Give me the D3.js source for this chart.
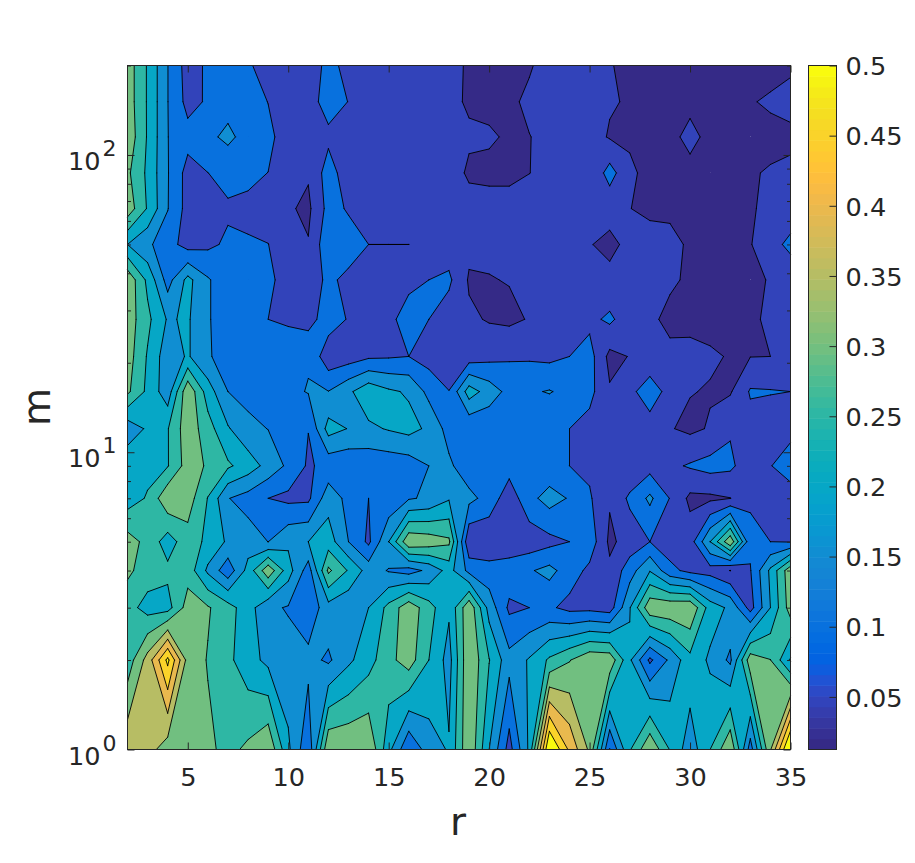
<!DOCTYPE html>
<html><head><meta charset="utf-8">
<script src="https://cdn.jsdelivr.net/npm/d3@7"></script>
<style>html,body{margin:0;padding:0;background:#fff}svg{display:block}text{font-family:"DejaVu Sans";fill:#262626}</style>
</head><body><div id="c"></div>
<script>
// x values (r = 2..35), y values (m), top row first
const rValues = d3.range(2, 36);
const mValues = [200,151,115,87,66,50,38,28,21,16,12,9,7,5,4,3,2,1];
const m200=[.3275,.245,.151,.078,.108,.12,.106,.08,.08,.08,.11,.09,.075,.07,.07,.07,.06,.046,.04,.04,.048,.058,.065,.06,.052,.042,.04,.04,.04,.04,.04,.04,.034,.045];
const m151=[.3275,.245,.151,.084,.106,.134,.125,.099,.07,.08,.12,.099,.075,.07,.07,.07,.062,.044,.04,.046,.054,.06,.065,.062,.054,.046,.04,.04,.0455,.04,.04,.047,.056,.06];
const m115=[.335,.245,.151,.118,.14,.16,.133,.115,.07,.072,.089,.08,.07,.07,.07,.065,.06,.057,.055,.045,.0495,.055,.065,.07,.046,.042,.04,.045,.055,.045,.042,.04,.037,.043];
const m87=[.31,.24,.153,.081,.0995,.117,.11,.0995,.075,.055,.123,.071,.07,.07,.07,.07,.075,.042,.04,.04,.0495,.06,.065,.055,.12,.06,.034,.035,.0445,.04,.04,.046,.054,.057];
const m66=[.33,.245,.152,.081,.08,.093,.09,.085,.056,.04,.116,.0955,.09,.08,.075,.075,.072,.0706,.067,.067,.07,.07,.07,.06,.065,.0505,.044,.043,.043,.04,.04,.047,.057,.065];
const m50=[.2,.16,.12,.08,.09,.108,.104,.1005,.08,.053,.137,.12,.1,.1,.1,.08,.075,.062,.06,.062,.065,.07,.06,.052,.04,.0604,.062,.06,.045,.04,.04,.0476,.078,.115];
const m38=[.339,.238,.13,.215,.155,.12,.115,.108,.085,.08,.108,.09,.08,.08,.09,.1,.109,.045,.048,.052,.06,.068,.07,.065,.061,.06,.058,.056,.044,.04,.04,.04,.053,.06];
const m28=[.328,.262,.195,.206,.155,.12,.115,.1,.095,.08,.127,.096,.08,.09,.117,.1,.075,.058,.046,.04,.053,.06,.07,.087,.11,.07,.058,.04,.035,.035,.038,.045,.055,.06];
const m21=[.324,.245,.17,.206,.155,.13,.125,.123,.121,.145,.066,.075,.092,.095,.1,.08,.07,.072,.085,.094,.093,.088,.1,.12,.036,.052,.067,.06,.066,.056,.047,.049,.05,.058];
const m16=[.31,.238,.17,.34,.225,.15,.135,.125,.137,.153,.151,.19,.235,.208,.194,.135,.101,.225,.177,.134,.144,.153,.136,.115,.055,.088,.125,.083,.052,.0468,.045,.105,.103,.1];
const m12=[.167,.208,.247,.331,.272,.205,.163,.149,.125,.101,.22,.198,.19,.204,.216,.191,.13,.105,.11,.11,.11,.105,.1,.082,.06,.055,.079,.053,.04,.054,.095,.08,.07,.085];
const m9=[.24,.235,.247,.323,.294,.258,.226,.183,.14,.093,.116,.11,.115,.117,.123,.15,.16,.117,.11,.12,.11,.115,.1,.09,.06,.055,.08,.09,.105,.118,.11,.07,.098,.125];
const m7=[.225,.255,.34,.325,.248,.152,.13,.1,.088,.09,.18,.135,.1,.11,.145,.158,.195,.165,.13,.07,.135,.17,.146,.106,.055,.11,.16,.098,.039,.04,.049,.095,.085,.075];
const m5=[.322,.285,.225,.28,.237,.192,.175,.1495,.19,.2,.225,.15,.09,.2,.34,.33,.31,.055,.06,.06,.07,.085,.1,.13,.04,.07,.1,.07,.075,.2,.34,.11,.1,.097];
const m4=[.31,.277,.262,.28,.19,.118,.218,.335,.222,.125,.31,.245,.178,.146,.13,.161,.22,.135,.12,.131,.145,.165,.125,.088,.06,.127,.197,.115,.085,.08,.049,.097,.21,.335];
const m3=[.27,.23,.23,.322,.305,.27,.222,.16,.146,.115,.18,.16,.2,.265,.333,.27,.208,.34,.18,.09,.1,.108,.085,.085,.075,.197,.336,.34,.345,.225,.19,.08,.2,.325];
const m2=[.27,.37,.512,.33,.297,.262,.22,.187,.17,.165,.142,.19,.23,.285,.325,.25,.18,.345,.252,.167,.205,.258,.297,.34,.335,.208,.09,.16,.235,.191,.14,.33,.301,.195];
const m1=[.39,.37,.324,.32,.31,.286,.31,.345,.21,.11,.345,.345,.348,.215,.105,.174,.205,.345,.2,.08,.21,.562,.44,.34,.098,.245,.345,.247,.17,.25,.345,.125,.345,.58];
const rows=[m200,m151,m115,m87,m66,m50,m38,m28,m21,m16,m12,m9,m7,m5,m4,m3,m2,m1];
const levels=[0,.05,.1,.15,.2,.25,.3,.35,.4,.45,.5];
const xTicks=[5,10,15,20,25,30,35];
const yMajor=[1,10,100];
const yMinor=[2,3,4,5,6,7,8,9,20,30,40,50,60,70,80,90,200];
const cbTicks=[.05,.1,.15,.2,.25,.3,.35,.4,.45,.5];
const parula=[[.2081,.1663,.5292],[.2116,.1898,.5777],[.2123,.2138,.627],[.2081,.2386,.6771],[.1959,.2645,.7279],[.1707,.2919,.7792],[.1253,.3242,.8303],[.0591,.3598,.8683],[.0117,.3875,.882],[.006,.4086,.8828],[.0165,.4266,.8786],[.0329,.443,.872],[.0498,.4586,.8641],[.0629,.4737,.8554],[.0723,.4887,.8467],[.0779,.504,.8384],[.0793,.52,.8312],[.0749,.5375,.8263],[.0641,.557,.824],[.0488,.5772,.8228],[.0343,.5966,.8199],[.0265,.6137,.8135],[.0239,.6287,.8038],[.0231,.6418,.7913],[.0228,.6535,.7768],[.0267,.6642,.7607],[.0384,.6743,.7436],[.059,.6838,.7254],[.0843,.6928,.7062],[.1133,.7015,.6859],[.1453,.7098,.6646],[.1801,.7177,.6424],[.2178,.725,.6193],[.2586,.7317,.5954],[.3022,.7376,.5712],[.3482,.7424,.5473],[.3953,.7459,.5244],[.442,.7481,.5033],[.4871,.7491,.484],[.53,.7491,.4661],[.5709,.7485,.4494],[.6099,.7473,.4337],[.6473,.7456,.4188],[.6834,.7435,.4044],[.7184,.7411,.3905],[.7525,.7384,.3768],[.7858,.7356,.3633],[.8185,.7327,.3498],[.8507,.7299,.336],[.8824,.7274,.3217],[.9139,.7258,.3063],[.945,.7261,.2886],[.9739,.7314,.2666],[.9938,.7455,.2403],[.999,.7653,.2164],[.9955,.7861,.1967],[.988,.8066,.1794],[.9789,.8271,.1633],[.9697,.8481,.1475],[.9626,.8705,.1309],[.9589,.8949,.1132],[.9598,.9218,.0948],[.9661,.9514,.0755],[.9763,.9831,.0538]];
const cmin=.0125,cmax=.5;
const pc=i=>{const c=parula[Math.max(0,Math.min(63,i))];return d3.rgb(c[0]*255,c[1]*255,c[2]*255)+""};
const colorOf=v=>pc(Math.floor((v-cmin)/(cmax-cmin)*64));

const L=127.5,R=790.5,T=65.5,B=749.5,CL=808.5,CR=836.5,INK="#262626",FS=25.6;
const svg=d3.select("#c").append("svg").attr("width",915).attr("height",863);
const x=d3.scaleLinear().domain([2,35]).range([L,R]);
const y=d3.scaleLog().domain([1,200]).range([B,T]);

// marching squares on the (r, m) lattice: one fill path and one line path per level
function bands(level){
  const fill=d3.path(),line=d3.path();
  const poly=(pts)=>{fill.moveTo(pts[0][0],pts[0][1]);pts.slice(1).forEach(p=>fill.lineTo(p[0],p[1]));fill.closePath();};
  const seg=(a,b)=>{line.moveTo(a[0],a[1]);line.lineTo(b[0],b[1]);};
  for(let j=0;j<mValues.length-1;j++)for(let i=0;i<rValues.length-1;i++){
    const P=[[x(rValues[i]),y(mValues[j])],[x(rValues[i+1]),y(mValues[j])],[x(rValues[i+1]),y(mValues[j+1])],[x(rValues[i]),y(mValues[j+1])]];
    const V=[rows[j][i],rows[j][i+1],rows[j+1][i+1],rows[j+1][i]];
    const hi=V.map(v=>v>=level);
    const cross=[0,1,2,3].map(e=>{const n=(e+1)%4;if(hi[e]===hi[n])return null;
      const t=(level-V[e])/(V[n]-V[e]);return [P[e][0]+t*(P[n][0]-P[e][0]),P[e][1]+t*(P[n][1]-P[e][1])];});
    const count=cross.filter(Boolean).length;
    if(count===4){
      const joined=d3.mean(V)>=level; // cell mean settles a saddle
      const h=hi[0]?0:1; // first high corner (h, h+2 are high)
      const c=k=>cross[(k+4)%4], p=k=>P[(k+4)%4];
      if(joined){
        poly([p(h),c(h),c(h+1),p(h+2),c(h+2),c(h+3)]);
        seg(c(h),c(h+1));seg(c(h+2),c(h+3));
      }else{
        poly([p(h),c(h),c(h+3)]);poly([p(h+2),c(h+2),c(h+1)]);
        seg(c(h),c(h+3));seg(c(h+1),c(h+2));
      }
    }else{
      const pts=[];
      for(let e=0;e<4;e++){if(hi[e])pts.push(P[e]);if(cross[e])pts.push(cross[e]);}
      if(pts.length>=3)poly(pts);
      const cs=cross.filter(Boolean);
      if(cs.length===2)seg(cs[0],cs[1]);
    }
  }
  return {level,fill:fill.toString(),line:line.toString()};
}
const layers=levels.map(bands);
const pg=svg.append("g");
pg.selectAll("path").data(layers).join("path").attr("d",d=>d.fill).attr("fill",d=>colorOf(d.level));
svg.append("g").selectAll("path").data(layers).join("path").attr("d",d=>d.line)
  .attr("fill","none").attr("stroke","#000").attr("stroke-width",.9).attr("stroke-linecap","round");

// axes box & ticks
const g=svg.append("g");
g.append("rect").attr("x",L).attr("y",T).attr("width",R-L).attr("height",B-T).attr("fill","none").attr("stroke",INK);
const bottom=d3.axisBottom(x).tickValues(xTicks).tickSize(-7).tickPadding(16).tickFormat(d3.format("d"));
const gb=g.append("g").attr("transform",`translate(0,${B})`).call(bottom);
const gt=g.append("g").attr("transform",`translate(0,${T})`).call(d3.axisTop(x).tickValues(xTicks).tickSize(-7).tickFormat(""));
gb.selectAll("text").attr("font-size",FS).attr("font-family","DejaVu Sans").attr("fill",INK).attr("dy",0).attr("y",36.5);
[[d3.axisRight,L],[d3.axisLeft,R]].forEach(([ax,p])=>{
  g.append("g").attr("transform",`translate(${p},0)`).call(ax(y).tickValues(yMajor).tickSize(7).tickFormat(""));
  g.append("g").attr("transform",`translate(${p},0)`).call(ax(y).tickValues(yMinor).tickSize(3.5).tickFormat(""));
});
g.selectAll(".domain").remove();
g.selectAll(".tick line").attr("stroke",INK).attr("stroke-width",1);
// y labels with exponents
const yl=svg.append("g").selectAll("text").data(yMajor).join("text")
  .attr("text-anchor","end").attr("x",116.5).attr("y",d=>y(d)+15).attr("font-size",FS);
yl.append("tspan").text("10");
yl.append("tspan").text(d=>Math.round(Math.log10(d))).attr("font-size",22).attr("dx",2).attr("dy",-14);

svg.append("text").attr("x",458).attr("y",835).attr("text-anchor","middle").attr("font-size",39).text("r");
svg.append("text").attr("transform","translate(50,407) rotate(-90)").attr("text-anchor","middle").attr("font-size",39).text("m");

// colorbar
const cy=d3.scaleLinear().domain([cmin,cmax]).range([B,T]);
const steps=d3.range(64);
const cw=(cmax-cmin)/64;
svg.append("g").selectAll("rect").data(steps).join("rect")
  .attr("x",CL).attr("width",CR-CL)
  .attr("y",i=>cy(cmin+(i+1)*cw)).attr("height",i=>cy(cmin+i*cw)-cy(cmin+(i+1)*cw)+.5)
  .attr("fill",i=>pc(i));
svg.append("rect").attr("x",CL).attr("y",T).attr("width",CR-CL).attr("height",B-T).attr("fill","none").attr("stroke",INK);
const ca=svg.append("g").attr("transform",`translate(${CR},0)`).call(d3.axisRight(cy).tickValues(cbTicks).tickSize(-7).tickPadding(9).tickFormat(d=>String(+d.toFixed(2))));
ca.select(".domain").remove();
ca.selectAll(".tick line").attr("stroke",INK);
ca.selectAll("text").attr("font-size",FS).attr("font-family","DejaVu Sans").attr("fill",INK).attr("x",9).attr("dy",".36em");
</script></body></html>
